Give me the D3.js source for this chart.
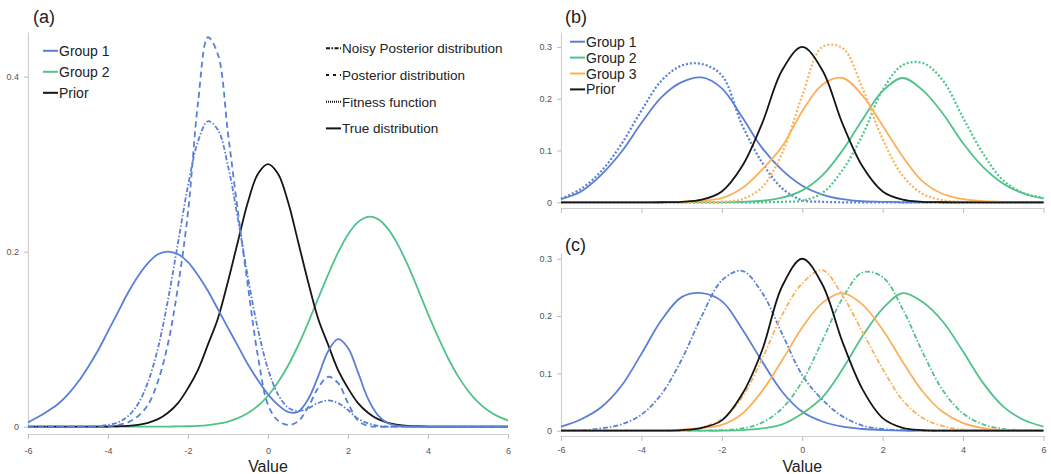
<!DOCTYPE html>
<html>
<head>
<meta charset="utf-8">
<script src="https://cdn.jsdelivr.net/npm/d3@7"></script>
<style>
  body { margin: 0; background: #fff; }
  svg { display: block; }
  text { font-family: "Liberation Sans", Arial, sans-serif; }
</style>
</head>
<body>
<div id="chart"></div>
<script>
// sample positions of the curves
const xFine = d3.range(-6, 6.0001, 0.25);   // panel (a)
const xCoarse = d3.range(-6, 6.0001, 0.5);  // panels (b) and (c)
const xTicks = [-6, -4, -2, 0, 2, 4, 6];

// panel (a)
const aGroup1 = [0.005,0.011,0.018,0.026,0.037,0.051,0.068,0.087,0.109,0.131,0.153,0.172,0.187,0.197,0.2,0.197,0.188,0.173,0.155,0.134,0.113,0.092,0.071,0.053,0.037,0.025,0.017,0.017,0.031,0.057,0.086,0.1,0.09,0.062,0.032,0.013,0.004,0.001,0,0,0,0,0,0,0,0,0,0,0];
const aGroup2 = [0,0,0,0,0,0,0,0,0,0,0,0,0,0,0.0001,0.0003,0.0005,0.001,0.0019,0.0034,0.0059,0.0098,0.0156,0.0239,0.0354,0.0507,0.0697,0.0925,0.1184,0.146,0.1735,0.1988,0.2196,0.2337,0.2398,0.2372,0.2261,0.2078,0.184,0.157,0.129,0.1026,0.0785,0.0578,0.0411,0.0281,0.0186,0.0118,0.0072];
const aPrior = [0,0,0,0,0,0,0,0.0001,0.0002,0.0005,0.001,0.0022,0.0045,0.0086,0.016,0.027,0.044,0.065,0.094,0.124,0.166,0.212,0.257,0.289,0.3,0.289,0.257,0.212,0.166,0.124,0.094,0.065,0.044,0.027,0.016,0.0086,0.0045,0.0022,0.001,0.0005,0.0002,0.0001,0,0,0,0,0,0,0];
const aPosterior = [0,0,0,0,0,0,0,0,0.0005,0.002,0.005,0.012,0.025,0.052,0.095,0.16,0.245,0.37,0.445,0.425,0.335,0.245,0.16,0.08,0.025,0.007,0.002,0.006,0.022,0.044,0.057,0.05,0.027,0.007,0.001,0,0,0,0,0,0,0,0,0,0,0,0,0,0];
const aNoisy = [0,0,0,0,0,0,0.0002,0.0007,0.002,0.005,0.012,0.026,0.051,0.09,0.145,0.21,0.275,0.326,0.349,0.339,0.298,0.237,0.17,0.111,0.066,0.037,0.022,0.018,0.021,0.027,0.03,0.027,0.019,0.009,0.004,0.001,0,0,0,0,0,0,0,0,0,0,0,0,0];

// panel (b): solid = true distribution, dotted = fitness function
const bPrior = [0,0,0,0,0,0.0001,0.0009,0.005,0.021,0.069,0.152,0.255,0.3,0.255,0.152,0.069,0.021,0.005,0.0009,0.0001,0,0,0,0,0];
const bGroup1 = [0.006,0.021,0.053,0.097,0.153,0.203,0.232,0.241,0.22,0.165,0.105,0.062,0.032,0.015,0.006,0.002,0.001,0,0,0,0,0,0,0,0];
const bGroup1Fit = [0.007,0.026,0.06,0.112,0.177,0.235,0.264,0.267,0.245,0.15,0.077,0.027,0.004,0.001,0,0,0,0,0,0,0,0,0,0,0];
const bGroup2 = [0,0,0,0,0,0,0,0,0,0.001,0.003,0.009,0.023,0.052,0.1,0.16,0.215,0.24,0.216,0.171,0.114,0.068,0.036,0.017,0.007];
const bGroup2Fit = [0,0,0,0,0,0,0,0,0,0,0,0.001,0.003,0.018,0.062,0.13,0.217,0.265,0.269,0.235,0.163,0.094,0.042,0.018,0.009];
const bGroup3 = [0,0,0,0,0,0,0.001,0.003,0.008,0.027,0.063,0.108,0.176,0.227,0.24,0.206,0.148,0.088,0.04,0.016,0.006,0.002,0.001,0,0];
const bGroup3Fit = [0,0,0,0,0,0,0,0,0.001,0.006,0.029,0.095,0.206,0.3,0.298,0.22,0.122,0.051,0.016,0.004,0.001,0,0,0,0];

// panel (c): solid = true distribution, dash-dot = posterior
const cPrior = [0,0,0,0,0,0.0001,0.001,0.005,0.018,0.063,0.14,0.252,0.3,0.255,0.155,0.072,0.022,0.005,0.001,0.0001,0,0,0,0,0];
const cGroup1 = [0.007,0.02,0.041,0.078,0.134,0.193,0.233,0.24,0.226,0.178,0.121,0.068,0.033,0.016,0.007,0.003,0.001,0,0,0,0,0,0,0,0];
const cGroup1Post = [0,0.001,0.004,0.011,0.028,0.064,0.124,0.2,0.262,0.279,0.241,0.169,0.097,0.054,0.025,0.009,0.003,0.001,0,0,0,0,0,0,0];
const cGroup2 = [0,0,0,0,0,0,0,0,0,0.001,0.004,0.011,0.03,0.058,0.107,0.165,0.213,0.24,0.224,0.19,0.138,0.083,0.042,0.019,0.007];
const cGroup2Post = [0,0,0,0,0,0,0,0.0002,0.001,0.004,0.014,0.039,0.086,0.157,0.231,0.276,0.268,0.212,0.136,0.07,0.03,0.011,0.003,0.001,0];
const cGroup3 = [0,0,0,0,0,0,0.0017,0.005,0.01,0.029,0.069,0.123,0.18,0.223,0.24,0.22,0.176,0.12,0.068,0.0325,0.0132,0.0045,0.0013,0.0003,0];
const cGroup3Post = [0,0,0,0,0,0,0.001,0.006,0.02,0.058,0.125,0.202,0.257,0.28,0.236,0.172,0.108,0.053,0.022,0.008,0.002,0.001,0,0,0];

const blue = "#5a7fd6", green = "#4fc38a", orange = "#fbb15b", black = "#151515";
const dashed = "6,4", dotdash = "5,2,1.5,2", dotted = "2,2";

const width = 1051, height = 474;

const svg = d3.select("#chart").append("svg")
    .attr("width", width)
    .attr("height", height);

function panel(p) {
  const x = d3.scaleLinear().domain([-6, 6]).range(p.xRange);
  const y = d3.scaleLinear().domain([0, p.yMax]).range(p.yRange);
  const g = svg.append("g");

  // x axis
  const xAxis = g.append("g")
      .attr("transform", `translate(0,${p.xAxisY})`)
      .call(d3.axisBottom(x).tickValues(xTicks).tickSize(5).tickSizeOuter(0)
        .tickPadding(p.tickPad).tickFormat(d => p.xLabels ? String(d) : ""));
  // y axis
  const yAxis = g.append("g")
      .attr("transform", `translate(${p.xRange[0]},0)`)
      .call(d3.axisLeft(y).tickValues(p.yTicks).tickSize(4).tickSizeOuter(0)
        .tickPadding(5).tickFormat(d => d === 0 ? "0" : d3.format(".1f")(d)));
  for (const ax of [xAxis, yAxis]) {
    ax.select(".domain").attr("stroke", "#d0d0d0").attr("stroke-width", 1.2);
    ax.selectAll(".tick line").attr("stroke", "#bdbdbd");
    ax.selectAll(".tick text").attr("fill", "#555").style("font-size", "9px");
  }

  const line = xs => d3.line()
      .x((d, i) => x(xs[i]))
      .y(d => y(d))
      .curve(d3.curveCatmullRom.alpha(0.5));

  g.append("g")
    .selectAll("path")
    .data(p.series)
    .join("path")
      .attr("d", s => line(p.xs)(s.values))
      .attr("fill", "none")
      .attr("stroke", s => s.color)
      .attr("stroke-width", s => s.dash === dotted ? 2.2 : 1.8)
      .attr("stroke-dasharray", s => s.dash || null);

  // panel letter
  g.append("text")
      .attr("x", p.tag[0]).attr("y", p.tag[1])
      .style("font-size", "18px").attr("fill", "#222")
      .text(p.tag[2]);

  if (p.xTitle) {
    g.append("text")
        .attr("x", (p.xRange[0] + p.xRange[1]) / 2).attr("y", 472)
        .attr("text-anchor", "middle")
        .style("font-size", "16px").attr("fill", "#222")
        .text("Value");
  }
}

function legend(items, x0, y0, step, fontSize) {
  const lg = svg.append("g");
  items.forEach((d, i) => {
    const yy = y0 + i * step;
    lg.append("line")
        .attr("x1", x0).attr("x2", x0 + 15)
        .attr("y1", yy).attr("y2", yy)
        .attr("stroke", d.color)
        .attr("stroke-width", d.dash === dotted ? 1.5 : 2)
        .attr("stroke-dasharray", d.dash || null);
    lg.append("text")
        .attr("x", x0 + 16).attr("y", yy + fontSize * 0.36)
        .style("font-size", fontSize + "px").attr("fill", "#222")
        .text(d.label);
  });
}

panel({
  xs: xFine, xRange: [28, 508], yRange: [426.7, 32], yMax: 0.451,
  yTicks: [0, 0.2, 0.4], xAxisY: 434, tickPad: 8.5, xLabels: true, xTitle: true,
  tag: [33, 23, "(a)"],
  series: [
    {values: aGroup2, color: green},
    {values: aPrior, color: black},
    {values: aGroup1, color: blue},
    {values: aPosterior, color: blue, dash: dashed},
    {values: aNoisy, color: blue, dash: dotdash}
  ]
});

panel({
  xs: xCoarse, xRange: [561, 1043.5], yRange: [202.3, 32], yMax: 0.3288,
  yTicks: [0, 0.1, 0.2, 0.3], xAxisY: 208, tickPad: 5, xLabels: false, xTitle: false,
  tag: [565, 23, "(b)"],
  series: [
    {values: bGroup1, color: blue},
    {values: bGroup1Fit, color: blue, dash: dotted},
    {values: bGroup2, color: green},
    {values: bGroup2Fit, color: green, dash: dotted},
    {values: bGroup3, color: orange},
    {values: bGroup3Fit, color: orange, dash: dotted},
    {values: bPrior, color: black}
  ]
});

panel({
  xs: xCoarse, xRange: [561, 1043.5], yRange: [430.7, 253], yMax: 0.31,
  yTicks: [0, 0.1, 0.2, 0.3], xAxisY: 436, tickPad: 5.5, xLabels: true, xTitle: true,
  tag: [565, 251, "(c)"],
  series: [
    {values: cGroup1, color: blue},
    {values: cGroup1Post, color: blue, dash: dotdash},
    {values: cGroup2, color: green},
    {values: cGroup2Post, color: green, dash: dotdash},
    {values: cGroup3, color: orange},
    {values: cGroup3Post, color: orange, dash: dotdash},
    {values: cPrior, color: black}
  ]
});

legend([
  {label: "Group 1", color: blue},
  {label: "Group 2", color: green},
  {label: "Prior", color: black}
], 43, 50.8, 21, 14);

legend([
  {label: "Noisy Posterior distribution", color: black, dash: "4,1.5,1.5,1.5"},
  {label: "Posterior distribution", color: black, dash: "3,4"},
  {label: "Fitness function", color: black, dash: "1,1"},
  {label: "True distribution", color: black}
], 326, 48.3, 26.7, 13.5);

legend([
  {label: "Group 1", color: blue},
  {label: "Group 2", color: green},
  {label: "Group 3", color: orange},
  {label: "Prior", color: black}
], 570, 41.7, 15.9, 14);
</script>
</body>
</html>
